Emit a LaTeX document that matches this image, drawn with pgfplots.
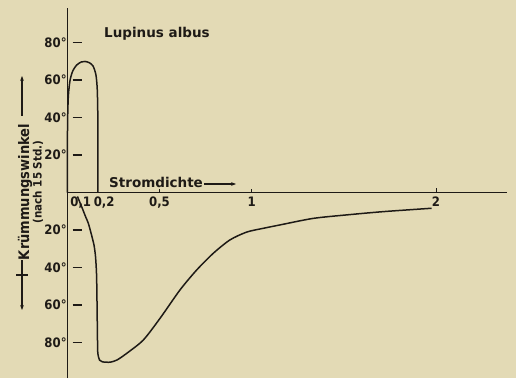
\documentclass[border=0pt]{standalone}
\usepackage{pgfplots}
\pgfplotsset{compat=1.18}
\usepackage{fontspec}
\setmainfont{DejaVu Sans}
\newfontfamily\cond{DejaVu Sans Condensed}
\usetikzlibrary{arrows.meta}
\definecolor{bg}{RGB}{227,218,181}
\definecolor{ink}{RGB}{30,26,22}
\begin{document}
\begin{tikzpicture}[x=1pt,y=1pt]
\fill[bg] (0,0) rectangle (516,378);
\useasboundingbox (0,0) rectangle (516,378);
\begin{axis}[
  at={(67.3pt,0pt)}, anchor=south west,
  scale only axis, width=439.7pt, height=370pt,
  xmin=0, xmax=2.385, ymin=-98.83, ymax=98.5,
  axis lines=middle,
  axis line style={-, line width=1.5pt, color=ink},
  major tick length=0pt,
  xtick={0.1,0.2,0.5,1,2},
  xticklabels={{\kern-10pt 0,1},{0,2},{0,5},1,2},
  ytick={-80,-60,-40,-20,20,40,60,80},
  yticklabels={80°,60°,40°,20°,20°,40°,60°,80°},
  ticklabel style={font=\cond\bfseries\fontsize{13}{13}\selectfont, text=ink},
  xticklabel style={anchor=north, inner sep=1pt, yshift=-3pt},
  yticklabel style={anchor=east, inner xsep=0.5pt},
  clip=false,
]
\addplot[ink, line width=1.5pt, smooth, tension=0.45] coordinates {
(0,0) (0.0,20) (0.002,40) (0.006,52) (0.015,60) (0.03,65) (0.05,68)
(0.075,69.7) (0.096,70) (0.12,69.3) (0.14,67.5) (0.155,63) (0.162,56)
(0.165,45) (0.166,30) (0.166,15) (0.166,0)
};
\addplot[ink, line width=1.5pt, smooth, tension=0.45] coordinates {
(0.055,-2) (0.08,-8) (0.1,-13) (0.114,-16.3) (0.13,-22) (0.145,-28)
(0.153,-34) (0.158,-42) (0.16,-50) (0.162,-65) (0.164,-80) (0.166,-86)
(0.175,-89.3) (0.19,-90.2) (0.232,-90.4) (0.27,-89.2) (0.322,-85.7)
(0.412,-78.6) (0.503,-67) (0.611,-51.9) (0.702,-41.2) (0.792,-32.3)
(0.882,-25.2) (0.973,-21) (1.063,-19) (1.153,-17.2) (1.334,-13.7)
(1.52,-11.8) (1.714,-10.1) (1.976,-8.3)
};
% detached y tick dashes
\draw[ink, line width=1.4pt] (axis cs:0.029,80) -- (axis cs:0.078,80);
\draw[ink, line width=1.4pt] (axis cs:0.029,60) -- (axis cs:0.078,60);
\draw[ink, line width=1.4pt] (axis cs:0.029,40) -- (axis cs:0.078,40);
\draw[ink, line width=1.4pt] (axis cs:0.029,20) -- (axis cs:0.078,20);
\draw[ink, line width=1.4pt] (axis cs:0.029,-20) -- (axis cs:0.078,-20);
\draw[ink, line width=1.4pt] (axis cs:0.029,-40) -- (axis cs:0.078,-40);
\draw[ink, line width=1.4pt] (axis cs:0.029,-60) -- (axis cs:0.078,-60);
\draw[ink, line width=1.4pt] (axis cs:0.029,-80) -- (axis cs:0.078,-80);
% x ticks
\draw[ink, line width=1pt] (axis cs:0.5,0) -- (axis cs:0.5,2.2);
\draw[ink, line width=1pt] (axis cs:1,0) -- (axis cs:1,2.2);
\draw[ink, line width=1pt] (axis cs:2,0) -- (axis cs:2,2.5);
\end{axis}
% texts
\node[text=ink, anchor=west, inner sep=0pt, font=\bfseries\fontsize{13.5}{13.5}\selectfont] at (104,344) {Lupinus albus};
\node[text=ink, anchor=west, inner sep=0pt, font=\bfseries\fontsize{13.5}{13.5}\selectfont] at (109,195.5) {Stromdichte};
\draw[ink, line width=1.2pt, -{Stealth[length=5pt]}] (204,194) -- (236,194);
% y label
\node[text=ink, rotate=90, inner sep=0pt, font=\cond\bfseries\fontsize{14.5}{14.5}\selectfont] at (25,186) {Krümmungswinkel};
\node[text=ink, rotate=90, inner sep=0pt, font=\cond\bfseries\fontsize{11.5}{11.5}\selectfont] at (38,196) {(nach 15 Std.)};
\draw[ink, line width=1.3pt, -{Stealth[length=5pt]}] (22,262) -- (22,302);
\draw[ink, line width=1.3pt, -{Stealth[length=5pt]}] (22,118) -- (22,68);
\draw[ink, line width=1.3pt] (16,103) -- (28,103);
\end{tikzpicture}
\end{document}
